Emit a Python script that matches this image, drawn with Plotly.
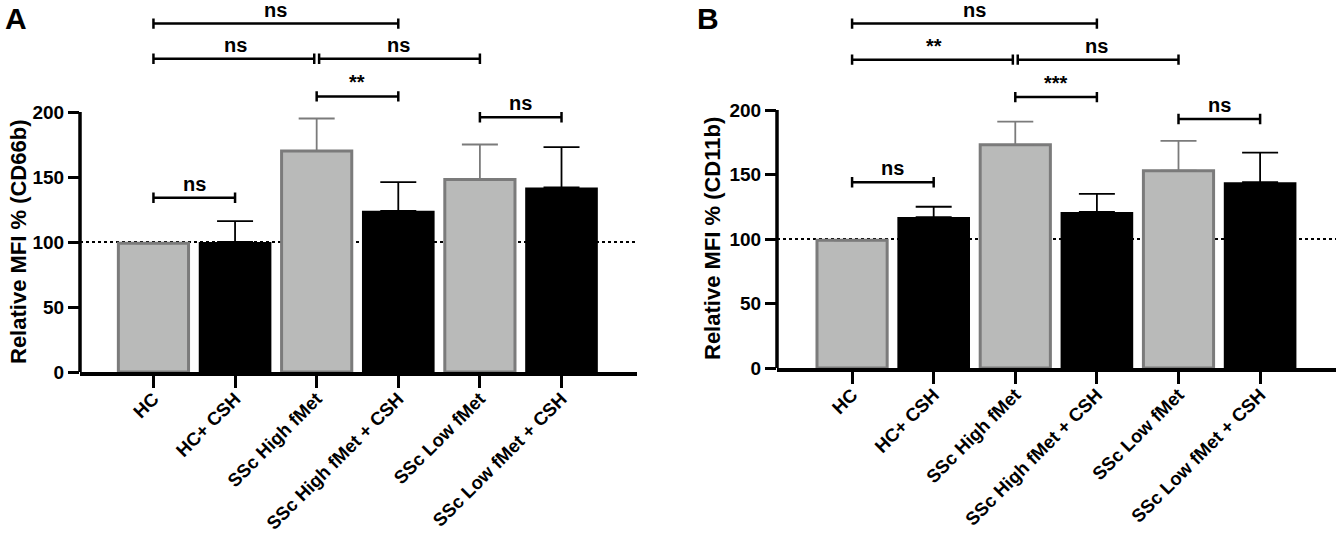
import plotly.graph_objects as go

categories = ["HC", "HC+ CSH", "SSc High fMet", "SSc High fMet + CSH", "SSc Low fMet", "SSc Low fMet + CSH"]
is_gray = [True, False, True, False, True, False]

# Panel A: CD66b
mean_A = [99, 100, 170, 124, 148, 142]
err_A = [0, 16, 25, 22, 27, 31]
# Panel B: CD11b
mean_B = [99, 117, 173, 121, 153, 144]
err_B = [0, 8, 18, 14, 23, 23]

# brackets: (start index, end index, level, label)
brackets_A = [(0, 3, 268, "ns"), (0, 2, 241, "ns"), (2, 4, 241, "ns"),
              (2, 3, 212, "**"), (4, 5, 196, "ns"), (0, 1, 134, "ns")]
brackets_B = [(0, 3, 267, "ns"), (0, 2, 239, "**"), (2, 4, 239, "ns"),
              (2, 3, 210, "***"), (4, 5, 193, "ns"), (0, 1, 144, "ns")]

ytitles = ["Relative MFI % (CD66b)", "Relative MFI % (CD11b)"]
panel_letters = ["A", "B"]

FONT = "Liberation Sans, Arial, Helvetica, sans-serif"
GRAY_FILL = "#b9bab9"
GRAY_LINE = "#7b7b7b"

fig = go.Figure()

panels = [
    dict(mean=mean_A, err=err_A, br=brackets_A, xa="x", ya="y"),
    dict(mean=mean_B, err=err_B, br=brackets_B, xa="x2", ya="y2"),
]

annotations = []
shapes = []
for p_i, p in enumerate(panels):
    idx = list(range(len(categories)))
    gx = [i for i in idx if is_gray[i]]
    bx = [i for i in idx if not is_gray[i]]
    fig.add_trace(go.Bar(
        x=gx, y=[p["mean"][i] for i in gx], width=0.86,
        marker=dict(color=GRAY_FILL, line=dict(color=GRAY_LINE, width=3)),
        error_y=dict(type="data", symmetric=False, array=[p["err"][i] for i in gx],
                     arrayminus=[0] * len(gx), color=GRAY_LINE, thickness=1.8, width=18),
        xaxis=p["xa"], yaxis=p["ya"], showlegend=False))
    fig.add_trace(go.Bar(
        x=bx, y=[p["mean"][i] for i in bx], width=0.89,
        marker=dict(color="black", line=dict(width=0)),
        error_y=dict(type="data", symmetric=False, array=[p["err"][i] for i in bx],
                     arrayminus=[0] * len(bx), color="black", thickness=1.8, width=18),
        xaxis=p["xa"], yaxis=p["ya"], showlegend=False))
    # brackets
    cap = 4
    for (s, e, lvl, lab) in p["br"]:
        # small gap when two brackets meet at the same category at same level
        s2 = s + (0.03 if any(ee == s and l2 == lvl for (_, ee, l2, _) in p["br"]) else 0)
        e2 = e - (0.03 if any(ss == e and l2 == lvl for (ss, _, l2, _) in p["br"]) else 0)
        fig.add_trace(go.Scatter(
            x=[s2, s2, s2, e2, e2, e2], y=[lvl + cap, lvl - cap, lvl, lvl, lvl + cap, lvl - cap],
            mode="lines", line=dict(color="black", width=2.5),
            xaxis=p["xa"], yaxis=p["ya"], showlegend=False, hoverinfo="skip"))
        annotations.append(dict(
            x=(s + e) / 2, y=lvl, xref=p["xa"], yref=p["ya"], text=lab,
            showarrow=False, yanchor="bottom", yshift=2, borderpad=0,
            font=dict(family=FONT, size=20, color="black", weight="bold")))
    axn = "" if p_i == 0 else "2"
    # dotted reference line at 100
    shapes.append(dict(type="line", xref=f"x{axn} domain", yref=f"y{axn}", x0=0, x1=1, y0=100, y1=100,
                       line=dict(color="black", width=2, dash="dot"), layer="below"))
    # y axis line from 0 to 200
    shapes.append(dict(type="line", xref=f"x{axn} domain", yref=f"y{axn}", x0=0, x1=0, y0=0, y1=200,
                       line=dict(color="black", width=3.5), layer="above"))

# y titles and panel letters
ytitle_x = [18 / 1336, 712 / 1336]
letter_x = [3 / 1336, 695 / 1336]
for i in range(2):
    axn = "" if i == 0 else "2"
    annotations.append(dict(
        x=ytitle_x[i], y=100, xref="paper", yref=f"y{axn}", text=ytitles[i], textangle=-90,
        showarrow=False, xanchor="center", yanchor="middle",
        font=dict(family=FONT, size=22, color="black", weight="bold")))
    annotations.append(dict(
        x=letter_x[i], y=1.0, xref="paper", yref="paper", text=panel_letters[i],
        showarrow=False, xanchor="left", yanchor="top",
        font=dict(family=FONT, size=30, color="black", weight="bold")))

xaxis_common = dict(
    tickmode="array", tickvals=list(range(len(categories))), ticktext=categories,
    tickangle=-45, ticks="outside", ticklen=12, tickwidth=3, tickcolor="black",
    ticklabelstandoff=-7,
    showline=True, linewidth=3.5, linecolor="black", showgrid=False, zeroline=False,
    automargin=False,
    tickfont=dict(family=FONT, size=18.5, color="black", weight="bold"))
yaxis_common = dict(
    range=[0, 285], tickmode="array", tickvals=[0, 50, 100, 150, 200],
    ticks="outside", ticklen=11, tickwidth=3, tickcolor="black",
    showline=False, showgrid=False, zeroline=False, automargin=False,
    tickfont=dict(family=FONT, size=19, color="black", weight="bold"))

fig.update_layout(
    width=1336, height=536, margin=dict(l=0, r=0, t=0, b=0, autoexpand=False),
    paper_bgcolor="white", plot_bgcolor="white", barmode="overlay",
    xaxis=dict(domain=[80 / 1336, 637 / 1336], range=[-0.9, 5.925], anchor="y", **xaxis_common),
    yaxis=dict(domain=[(536 - 372) / 536, (536 - 1.5) / 536], anchor="x", **yaxis_common),
    xaxis2=dict(domain=[777 / 1336, 1.0], range=[-0.92, 5.93], anchor="y2", **xaxis_common),
    yaxis2=dict(domain=[(536 - 368) / 536, (536 - 0.35) / 536], anchor="x2", **yaxis_common),
    annotations=annotations, shapes=shapes,
)

fig.write_html("out.html", config={"displayModeBar": False},
               post_script="document.body.style.margin='0px';document.body.style.overflow='hidden';")
